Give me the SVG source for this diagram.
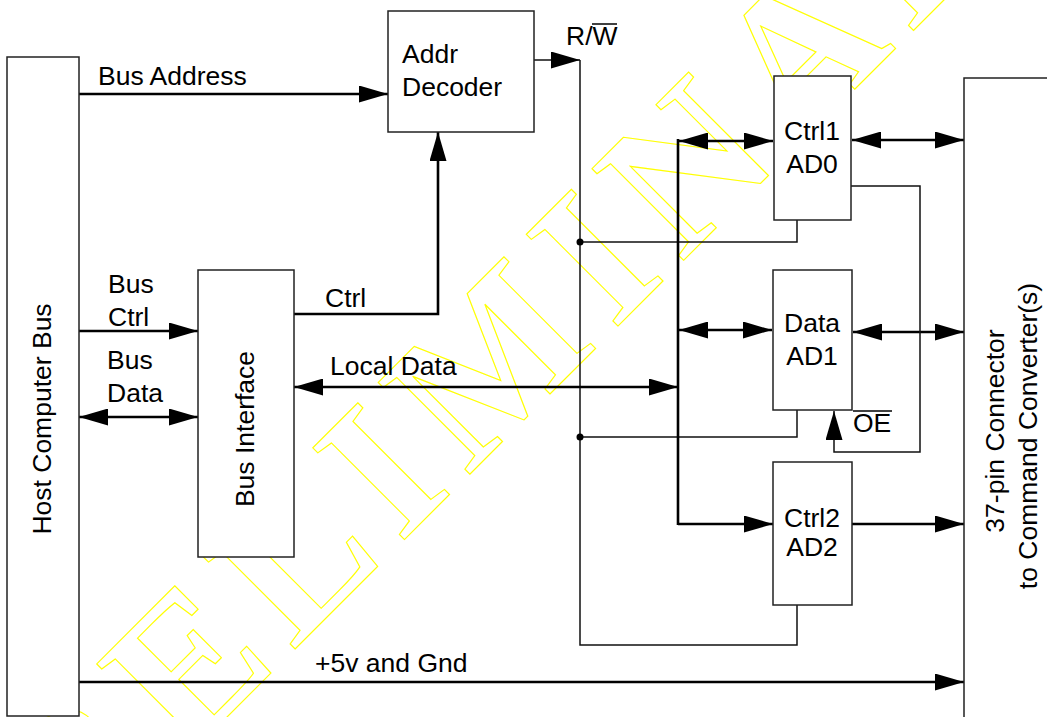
<svg xmlns="http://www.w3.org/2000/svg" width="1047" height="717" viewBox="0 0 1047 717">
<style>
.box{fill:#fff;stroke:#222;stroke-width:1.5}
.thick{fill:none;stroke:#000;stroke-width:2.6}
.thin{fill:none;stroke:#111;stroke-width:1.5}
.lbl{font-family:"Liberation Sans",Arial,sans-serif;font-size:26.5px;fill:#000}
.mid{text-anchor:middle}
.wm{font-family:"Liberation Serif","Times New Roman",serif;font-weight:bold;font-size:198px;letter-spacing:19px;fill:none;stroke:#ffff00;stroke-width:1.1}
</style>
<defs>
<marker id="ah" markerUnits="userSpaceOnUse" viewBox="0 0 29 17" markerWidth="29" markerHeight="17" refX="29" refY="8.5" orient="auto-start-reverse">
<path d="M0,0 L29,8.5 L0,17 Z" fill="#000"/>
</marker>
</defs>
<rect width="1047" height="717" fill="#fff"/>
<g id="watermark">
<text class="wm" transform="translate(-27.5,971.5) rotate(-45)">PRELIMINARY</text>
</g>
<g id="connectors">
<line class="thick" x1="79" y1="94" x2="388" y2="94" marker-end="url(#ah)"/>
<line class="thin" x1="534" y1="60" x2="580" y2="60" marker-end="url(#ah)"/>
<polyline class="thin" points="580,60 580,645 797,645 797,605"/>
<polyline class="thin" points="580,242 797,242 797,220"/>
<polyline class="thin" points="580,437 797,437 797,410"/>
<circle cx="580" cy="242" r="3.5" fill="#000"/>
<circle cx="580" cy="437" r="3.5" fill="#000"/>
<line class="thick" x1="79" y1="331" x2="198" y2="331" marker-end="url(#ah)"/>
<line class="thick" x1="79" y1="417" x2="198" y2="417" marker-start="url(#ah)" marker-end="url(#ah)"/>
<polyline class="thick" points="294,314 438,314 438,132" marker-end="url(#ah)"/>
<line class="thick" x1="294" y1="387" x2="678" y2="387" marker-start="url(#ah)" marker-end="url(#ah)"/>
<line class="thick" x1="678" y1="139" x2="678" y2="525"/>
<line class="thick" x1="679" y1="141" x2="773" y2="141" marker-start="url(#ah)" marker-end="url(#ah)"/>
<line class="thick" x1="852" y1="140" x2="964" y2="140" marker-start="url(#ah)" marker-end="url(#ah)"/>
<line class="thick" x1="679" y1="330" x2="772" y2="330" marker-start="url(#ah)" marker-end="url(#ah)"/>
<line class="thick" x1="853" y1="332" x2="964" y2="332" marker-start="url(#ah)" marker-end="url(#ah)"/>
<polyline class="thick" points="678,524 773,524" marker-end="url(#ah)"/>
<line class="thick" x1="852" y1="524" x2="964" y2="524" marker-end="url(#ah)"/>
<polyline class="thin" points="851,186 920,186 920,452 834,452 834,411" marker-end="url(#ah)"/>
<line class="thick" x1="79" y1="682" x2="964" y2="682" marker-end="url(#ah)"/>
<text class="lbl" x="98" y="85">Bus Address</text>
<text class="lbl" x="566" y="45">R/W</text>
<line x1="592" y1="24" x2="617" y2="24" stroke="#000" stroke-width="1.5"/>
<text class="lbl" x="108" y="293">Bus</text>
<text class="lbl" x="108" y="326">Ctrl</text>
<text class="lbl" x="107" y="369">Bus</text>
<text class="lbl" x="107" y="402">Data</text>
<text class="lbl" x="325" y="307">Ctrl</text>
<text class="lbl" x="330" y="375">Local Data</text>
<text class="lbl" x="853" y="432">OE</text>
<line x1="853" y1="411" x2="892" y2="411" stroke="#000" stroke-width="1.5"/>
<text class="lbl" x="315" y="672">+5v and Gnd</text>
</g>
<g id="host-bus">
<rect class="box" x="7" y="57" width="72" height="659"/>
<text class="lbl mid" transform="translate(51,419) rotate(-90)">Host Computer Bus</text>
</g>
<g id="addr-decoder">
<rect class="box" x="388" y="11" width="146" height="121"/>
<text class="lbl" x="402" y="63">Addr</text>
<text class="lbl" x="402" y="96">Decoder</text>
</g>
<g id="bus-interface">
<rect class="box" x="198" y="270" width="96" height="287"/>
<text class="lbl mid" transform="translate(254,429) rotate(-90)">Bus Interface</text>
</g>
<g id="ctrl1-ad0">
<rect class="box" x="774" y="76" width="77" height="144"/>
<text class="lbl mid" x="812" y="140">Ctrl1</text>
<text class="lbl mid" x="812" y="173">AD0</text>
</g>
<g id="data-ad1">
<rect class="box" x="773" y="270" width="79" height="140"/>
<text class="lbl mid" x="812" y="332">Data</text>
<text class="lbl mid" x="812" y="365">AD1</text>
</g>
<g id="ctrl2-ad2">
<rect class="box" x="773" y="462" width="79" height="143"/>
<text class="lbl mid" x="812" y="527">Ctrl2</text>
<text class="lbl mid" x="812" y="556">AD2</text>
</g>
<g id="connector-37pin">
<rect class="box" x="964" y="78" width="120" height="660"/>
<text class="lbl mid" transform="translate(1004,431) rotate(-90)">37-pin Connector</text>
<text class="lbl mid" transform="translate(1037,436) rotate(-90)">to Command Converter(s)</text>
</g>
</svg>
